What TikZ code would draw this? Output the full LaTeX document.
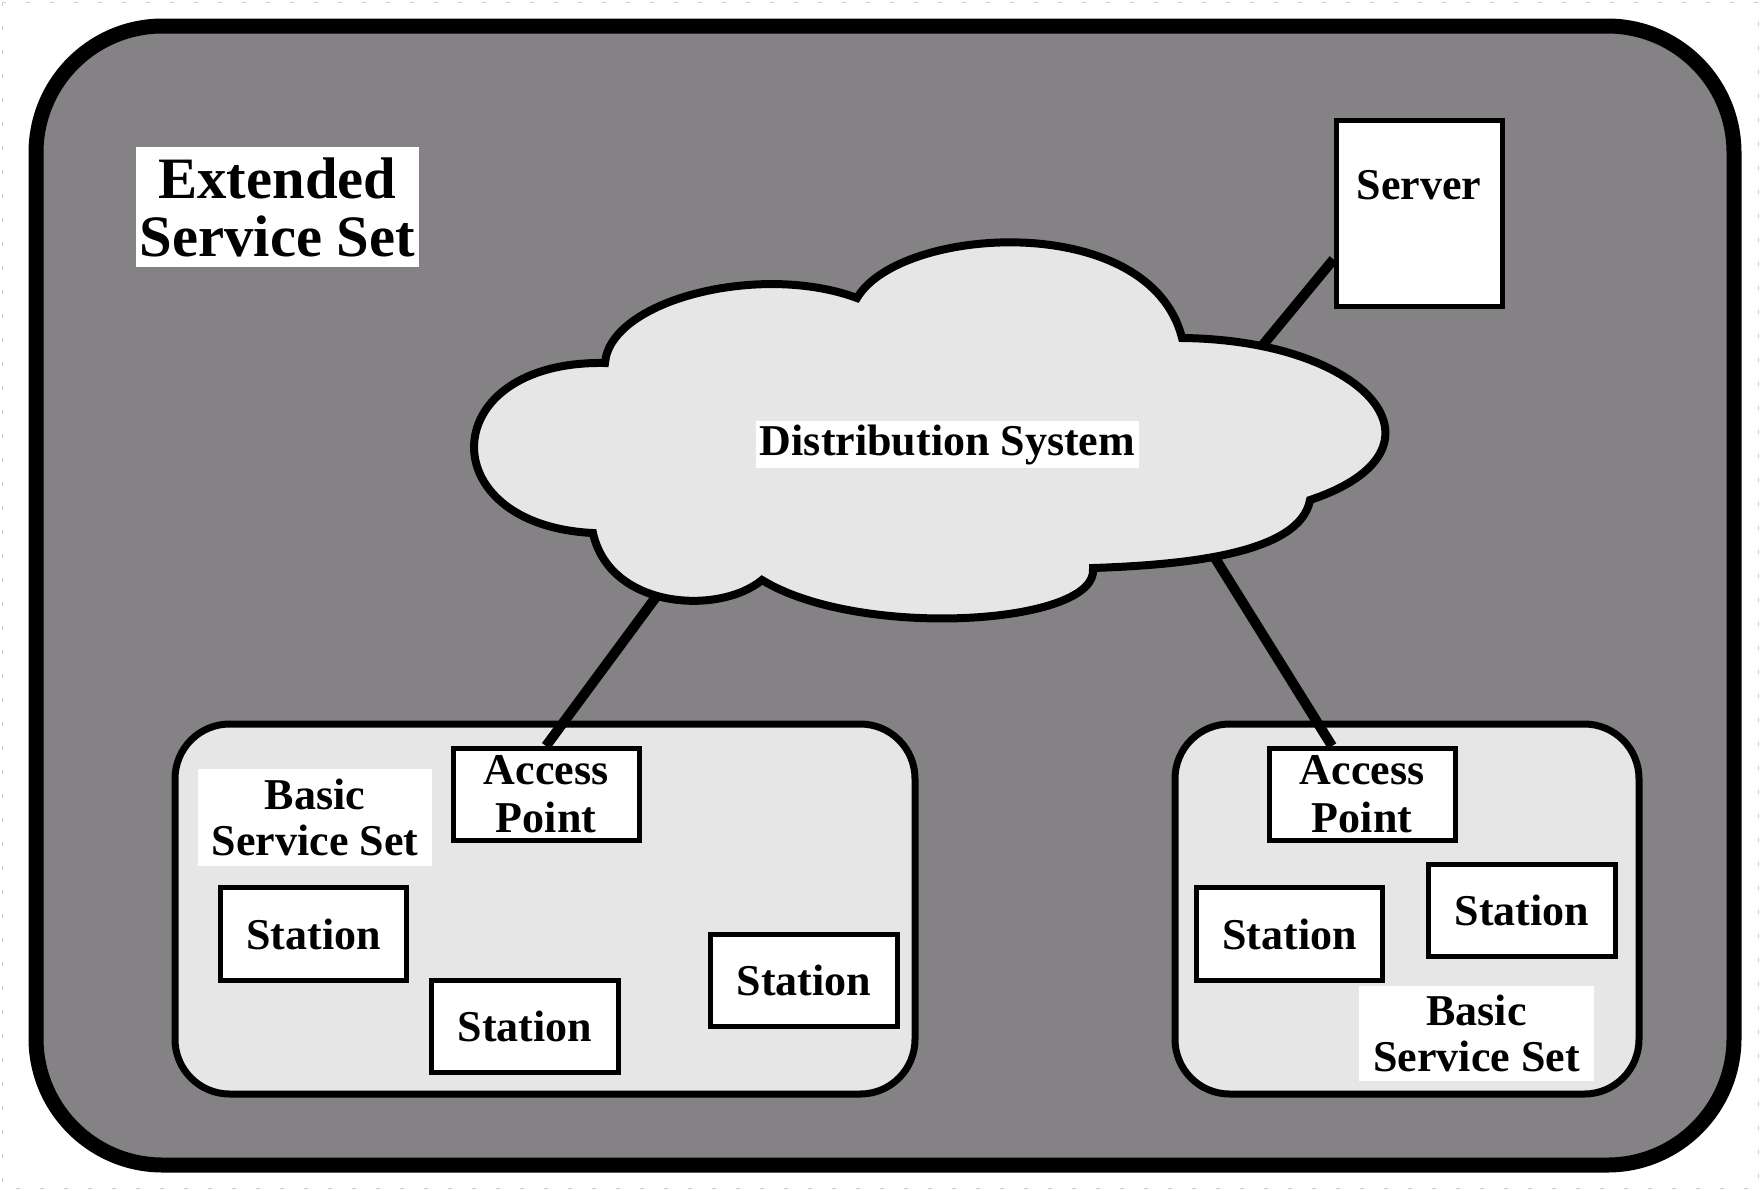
\documentclass[tikz,border=0pt]{standalone}
\usepackage{fontspec}
\setmainfont{Liberation Serif}
\definecolor{essgray}{RGB}{133,130,134}
\definecolor{bssgray}{RGB}{230,230,230}

\begin{document}
\begin{tikzpicture}[x=0.75pt,y=0.75pt,yscale=-1,xscale=1,
  unitbox/.style={draw, line width=3.75pt, fill=white, inner sep=0pt, align=center, font=\bfseries\fontsize{33}{36}\selectfont},
  stationbox/.style={unitbox, minimum width=140pt, minimum height=69.5pt},
  apbox/.style={unitbox, minimum width=139.5pt, minimum height=69pt},
  tag/.style={fill=white, inner sep=0pt, align=center, font=\bfseries\fontsize{33}{35}\selectfont},
  link/.style={line width=7.5pt}]
\useasboundingbox (0,0) rectangle (1760,1190);

%Shape: Frame
\draw [color=blue!22, line width=0.75pt, dash pattern=on 3pt off 15pt] (2,2) rectangle (1758,1188);
%Shape: Rounded Rect (extended service set)
\draw [line width=11.25pt, fill=essgray, rounded corners=95pt] (36,26) rectangle (1734,1165);

%Shape: Cloud
\draw [line width=6pt, fill=bssgray] (605,363) .. controls (610,300) and (760,262) .. (857,298) .. controls (900,225) and (1150,210) .. (1182,338) .. controls (1370,340) and (1460,450) .. (1310,500) .. controls (1300,555) and (1180,565) .. (1093,568) .. controls (1100,625) and (860,640) .. (762,580) .. controls (720,615) and (610,610) .. (593,533) .. controls (430,525) and (435,360) .. (605,363) -- cycle ;
\coordinate (dsleft) at (656,597);
\coordinate (dsright) at (1215,558);
\coordinate (dsserver) at (1262,346);

%Shape: Rounded Rect (basic service sets)
\draw [line width=5.25pt, fill=bssgray, rounded corners=41pt] (175,724) rectangle (915,1094);
\draw [line width=5.25pt, fill=bssgray, rounded corners=41pt] (1175,724) rectangle (1639,1094);

% Text Node
\node [tag, minimum width=212pt, minimum height=90pt, font=\bfseries\fontsize{44}{43.5}\selectfont] (esslbl) at (277.5,207) {Extended\\Service Set};
% Text Node
\node [tag, minimum width=287pt, minimum height=35pt] (dslbl) at (947.5,444.5) {Distribution System};
% Text Node
\node [tag, minimum width=175.5pt, minimum height=72.75pt] (bsslbl1) at (315,817.5) {Basic\\Service Set};
% Text Node
\node [tag, minimum width=176pt, minimum height=71pt] (bsslbl2) at (1476.5,1033.5) {Basic\\Service Set};

%Shape: Server
\node [unitbox, minimum width=124.5pt, minimum height=139pt] (server) at (1419,213.5) {};
\node [font=\bfseries\fontsize{33}{36}\selectfont, inner sep=0pt] (srvtxt) at (1419,185.5) {Server};

%Shape: Access Points
\node [apbox] (ap1) at (546,794.5) {Access\\Point};
\node [apbox] (ap2) at (1362,794.5) {Access\\Point};

%Shape: Stations
\node [stationbox] (st1) at (313.5,934) {Station};
\node [stationbox] (st2) at (525,1026.5) {Station};
\node [stationbox] (st3) at (804,980.5) {Station};
\node [stationbox] (st4) at (1289.5,934) {Station};
\node [stationbox] (st5) at (1522,910.5) {Station};

%Straight Lines
\draw [link] (dsleft) -- (ap1.north) ;
\draw [link] (dsright) -- ([xshift=-22.5pt]ap2.north) ;
\draw [link] (dsserver) -- ([yshift=-37pt]server.south west) ;
\end{tikzpicture}
\end{document}
